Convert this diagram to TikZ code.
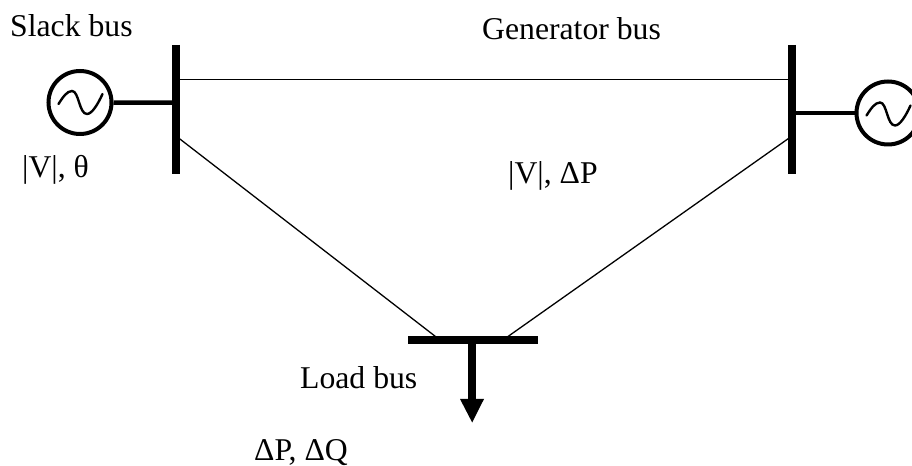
\documentclass[tikz,border=0pt]{standalone}
\usepackage{fontspec}
\setmainfont{Liberation Serif}
\tikzset{
  busline/.style={line width=8bp},
  feeder/.style={line width=1.3bp},
  lead/.style={line width=4.5bp},
  wave/.style={line width=2.4bp,line cap=round},
  gen/.style={circle,draw,line width=4bp,minimum size=63bp,inner sep=0pt},
  lbl/.style={inner sep=0pt,anchor=base west,font=\fontsize{31.7bp}{36bp}\selectfont,text=black}
}
\begin{document}
\begin{tikzpicture}[x=1bp,y=-1bp]
\useasboundingbox (0,0) rectangle (912,466);
\coordinate (s1) at (176.3,45);\coordinate (s2) at (176.3,174);
\coordinate (g1) at (792,45);\coordinate (g2) at (792,174);
\coordinate (l1) at (408,340);\coordinate (l2) at (538,340);
\draw[busline] (s1)--(s2);
\draw[busline] (g1)--(g2);
\draw[busline] (l1)--(l2);
\coordinate (a1) at (176,79.7);\coordinate (a2) at (792,79.7);
\coordinate (b1) at (176,136);\coordinate (b2) at (440,340);
\coordinate (c1) at (792,136);\coordinate (c2) at (503,340);
\draw[feeder] (a1)--(a2);
\draw[feeder] (b1)--(b2);
\draw[feeder] (c1)--(c2);
\node[gen] (G1) at (80,102.5) {};
\node[gen] (G2) at (888,113) {};
\draw[wave] (58.5,104) .. controls (63,97) and (67,91) .. (72,91) .. controls (79,91) and (79,114) .. (87,114) .. controls (92,114) and (98,104) .. (102.5,94);
\draw[wave] (866.5,115.5) .. controls (871,108.5) and (875,102.5) .. (880,102.5) .. controls (887,102.5) and (887,125.5) .. (895,125.5) .. controls (900,125.5) and (906,115.5) .. (910.5,105.5);
\coordinate (s3) at (176,102.7);\coordinate (g3) at (792,113);
\draw[lead] (G1)--(s3);
\draw[lead] (G2)--(g3);
\coordinate (l3) at (472.2,340);\coordinate (l4) at (472.2,401);\coordinate (l5) at (472.2,422.5);
\draw[busline] (l3)--(l4);
\fill (460,399)--(484,399)--(l5)--cycle;
\node[lbl] (t1) at (10,37) {Slack bus};
\node[lbl] (t2) at (482,40) {Generator bus};
\node[lbl] (t3) at (22,178) {|V|, θ};
\node[lbl] (t4) at (508,184) {|V|, ΔP};
\node[lbl] (t5) at (300,388) {Load bus};
\node[lbl] (t6) at (254,460) {ΔP, ΔQ};
\end{tikzpicture}
\end{document}
